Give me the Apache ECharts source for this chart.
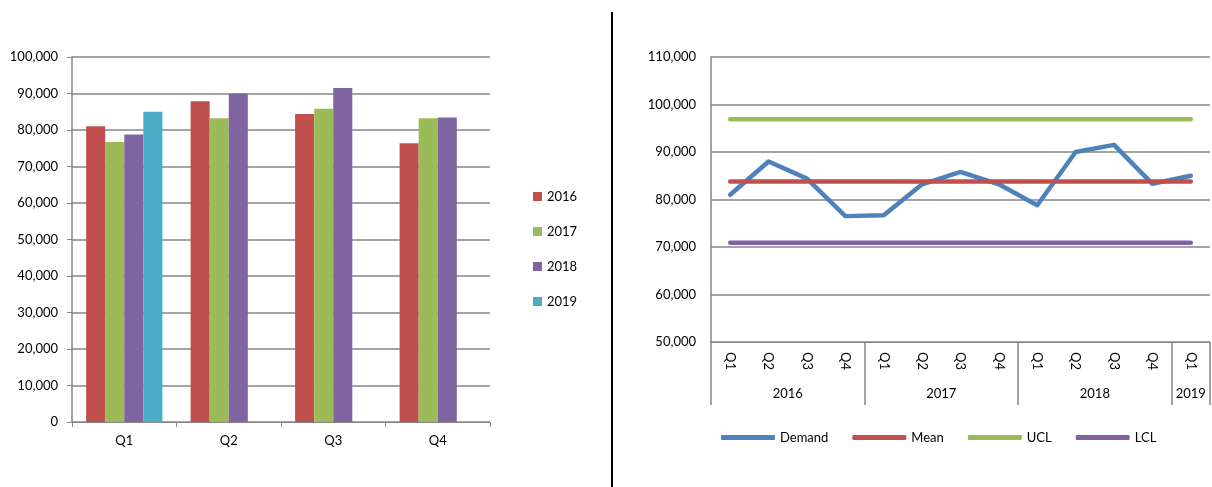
<!DOCTYPE html>
<html><head><meta charset="utf-8">
<script src="https://cdn.jsdelivr.net/npm/echarts@6/dist/echarts.min.js"></script>
<style>html,body{margin:0;padding:0;background:#fff}#c{width:1212px;height:487px}</style>
</head><body><div id="c"></div>
<script>
// ---- Left chart data ----
const quarters = ['Q1', 'Q2', 'Q3', 'Q4'];
const barYears = ['2016', '2017', '2018', '2019'];
const bar2016 = [81000, 87900, 84400, 76400];
const bar2017 = [76700, 83200, 85800, 83200];
const bar2018 = [78800, 90000, 91500, 83400];
const bar2019 = [85000, null, null, null];

// ---- Right chart data ----
const periodQuarters = ['Q1','Q2','Q3','Q4','Q1','Q2','Q3','Q4','Q1','Q2','Q3','Q4','Q1'];
const periodYears = ['2016','2016','2016','2016','2017','2017','2017','2017','2018','2018','2018','2018','2019'];
const demand = [81000, 88000, 84400, 76500, 76700, 83200, 85800, 83200, 78800, 90000, 91500, 83300, 85000];
const mean = [83800, 83800, 83800, 83800, 83800, 83800, 83800, 83800, 83800, 83800, 83800, 83800, 83800];
const ucl = [96900, 96900, 96900, 96900, 96900, 96900, 96900, 96900, 96900, 96900, 96900, 96900, 96900];
const lcl = [70900, 70900, 70900, 70900, 70900, 70900, 70900, 70900, 70900, 70900, 70900, 70900, 70900];

// year groups (derived from periodYears)
const yearGroups = [];
periodYears.forEach((y, i) => {
  const g = yearGroups[yearGroups.length - 1];
  if (g && g.year === y) g.last = i; else yearGroups.push({year: y, first: i, last: i});
});
const yearCenters = yearGroups.map(g => (g.first + g.last) / 2);
const yearBounds = yearGroups.map(g => g.first - 0.5).concat([periodYears.length - 0.5]);

const FONT = 'Lato';
const GRID = '#868686';
const TXT = '#000';
const colors = {b16: '#C0504D', b17: '#9BBB59', b18: '#8064A2', b19: '#4BACC6',
  demand: '#4F81BD', mean: '#C0504D', ucl: '#9BBB59', lcl: '#8064A2'};

const fmt = v => v.toLocaleString('en-US');

const chart = echarts.init(document.getElementById('c'), null, {renderer: 'canvas'});
chart.setOption({
  animation: false,
  backgroundColor: '#fff',
  textStyle: {fontFamily: FONT, color: TXT},
  grid: [
    {left: 72, top: 57, width: 418, height: 365},
    {left: 711, top: 57, width: 499, height: 285}
  ],
  legend: [
    {
      data: barYears, orient: 'vertical', left: 528, top: 185, itemGap: 22,
      itemWidth: 9, itemHeight: 9, icon: 'rect',
      textStyle: {fontFamily: FONT, fontSize: 13, color: TXT}
    },
    {
      data: ['Demand', 'Mean', 'UCL', 'LCL'], orient: 'horizontal', left: 716, top: 426,
      itemGap: 24, itemWidth: 54, itemHeight: 5, icon: 'roundRect',
      textStyle: {fontFamily: FONT, fontSize: 13, color: TXT}
    }
  ],
  xAxis: [
    {
      type: 'category', gridIndex: 0, data: quarters,
      axisLine: {lineStyle: {color: GRID, width: 1}},
      axisTick: {show: true, length: 5, lineStyle: {color: GRID}},
      axisLabel: {fontFamily: FONT, fontSize: 13, color: TXT, margin: 12}
    },
    {
      type: 'category', gridIndex: 1, data: periodQuarters, boundaryGap: true,
      axisLine: {lineStyle: {color: GRID, width: 1}},
      axisTick: {show: false},
      axisLabel: {fontFamily: FONT, fontSize: 13, color: TXT, rotate: -90, margin: 10, interval: 0}
    },
    {
      type: 'value', gridIndex: 1, min: -0.5, max: periodYears.length - 0.5, position: 'bottom',
      axisLine: {show: false},
      splitLine: {show: false},
      axisTick: {show: true, customValues: yearBounds, length: 63, lineStyle: {color: GRID, width: 1.5}},
      axisLabel: {
        show: true, customValues: yearCenters, margin: 45, fontFamily: FONT, fontSize: 13, color: TXT,
        formatter: v => {
          const idx = yearCenters.findIndex(c => Math.abs(c - v) < 1e-6);
          return idx >= 0 ? yearGroups[idx].year : '';
        }
      }
    }
  ],
  yAxis: [
    {
      type: 'value', gridIndex: 0, min: 0, max: 100000, interval: 10000,
      axisLine: {show: true, onZero: false, lineStyle: {color: GRID, width: 1.5}},
      axisTick: {show: true, length: 5, lineStyle: {color: GRID}},
      splitLine: {lineStyle: {color: GRID, width: 1.5}},
      axisLabel: {fontFamily: FONT, fontSize: 13, color: TXT, margin: 14, formatter: fmt}
    },
    {
      type: 'value', gridIndex: 1, min: 50000, max: 110000, interval: 10000,
      axisLine: {show: true, onZero: false, lineStyle: {color: GRID, width: 1.5}},
      axisTick: {show: false},
      splitLine: {lineStyle: {color: GRID, width: 1.5}},
      axisLabel: {fontFamily: FONT, fontSize: 13, color: TXT, margin: 15, formatter: fmt}
    }
  ],
  series: [
    {name: '2016', type: 'bar', xAxisIndex: 0, yAxisIndex: 0, data: bar2016, itemStyle: {color: colors.b16}, barGap: '0%', barCategoryGap: '27%'},
    {name: '2017', type: 'bar', xAxisIndex: 0, yAxisIndex: 0, data: bar2017, itemStyle: {color: colors.b17}, barGap: '0%', barCategoryGap: '27%'},
    {name: '2018', type: 'bar', xAxisIndex: 0, yAxisIndex: 0, data: bar2018, itemStyle: {color: colors.b18}, barGap: '0%', barCategoryGap: '27%'},
    {name: '2019', type: 'bar', xAxisIndex: 0, yAxisIndex: 0, data: bar2019, itemStyle: {color: colors.b19}, barGap: '0%', barCategoryGap: '27%'},
    {name: 'Demand', type: 'line', xAxisIndex: 1, yAxisIndex: 1, data: demand, showSymbol: false, symbol: 'none',
      lineStyle: {color: colors.demand, width: 4.5, cap: 'round', join: 'round'}, itemStyle: {color: colors.demand}, z: 3},
    {name: 'Mean', type: 'line', xAxisIndex: 1, yAxisIndex: 1, data: mean, showSymbol: false, symbol: 'none',
      lineStyle: {color: colors.mean, width: 4.5, cap: 'round'}, itemStyle: {color: colors.mean}, z: 4},
    {name: 'UCL', type: 'line', xAxisIndex: 1, yAxisIndex: 1, data: ucl, showSymbol: false, symbol: 'none',
      lineStyle: {color: colors.ucl, width: 4.5, cap: 'round'}, itemStyle: {color: colors.ucl}, z: 4},
    {name: 'LCL', type: 'line', xAxisIndex: 1, yAxisIndex: 1, data: lcl, showSymbol: false, symbol: 'none',
      lineStyle: {color: colors.lcl, width: 4.5, cap: 'round'}, itemStyle: {color: colors.lcl}, z: 4}
  ],
  graphic: [
    {type: 'line', shape: {x1: 612, y1: 12, x2: 612, y2: 487}, style: {stroke: '#000', lineWidth: 2}, silent: true}
  ]
});
</script>
</body></html>
